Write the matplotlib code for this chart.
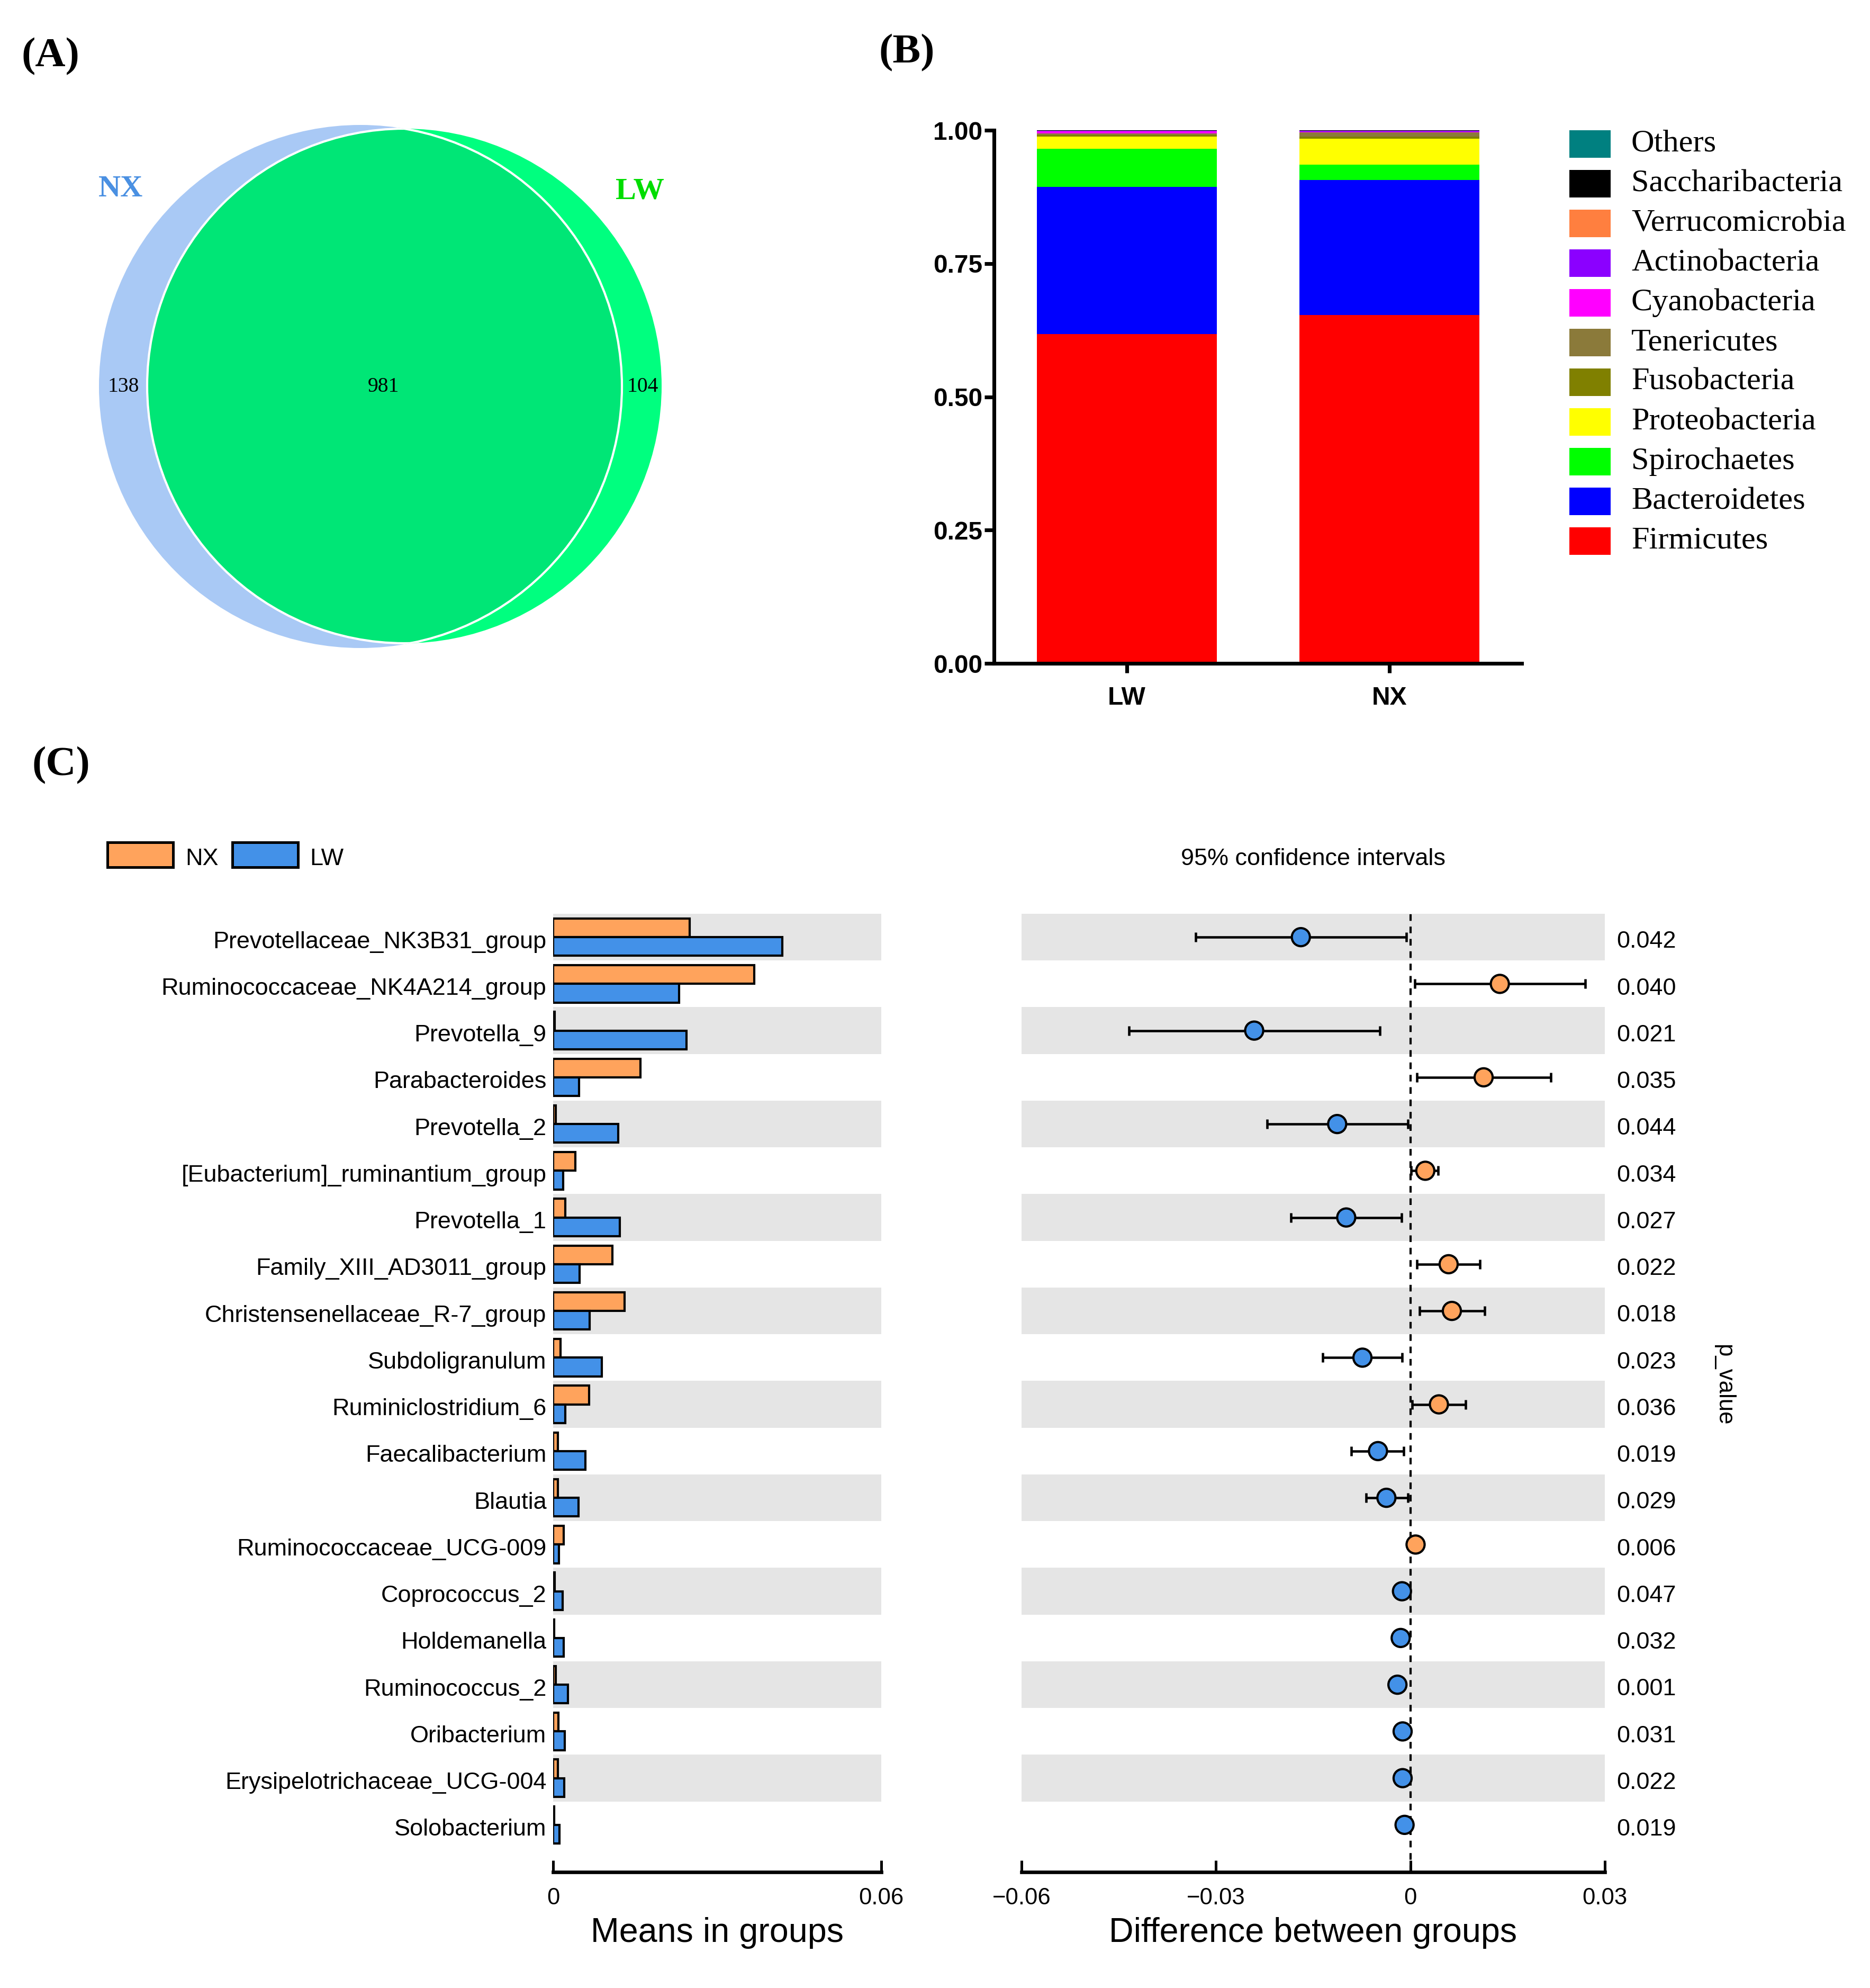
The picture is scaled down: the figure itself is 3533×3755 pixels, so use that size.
import numpy as np
import matplotlib
matplotlib.use('Agg')
import matplotlib.pyplot as plt
from matplotlib.patches import Circle, Rectangle
import matplotlib.transforms as mtransforms

W, H = 3533, 3755
DPI = 300

# ---- data: panel A (venn counts) ----
venn_groups = ['NX', 'LW']
venn_counts = [138, 981, 104]   # NX only, shared, LW only

# ---- data: panel B (phylum relative abundance) ----
b_groups = ['LW', 'NX']
phyla = ['Firmicutes', 'Bacteroidetes', 'Spirochaetes', 'Proteobacteria', 'Fusobacteria',
         'Tenericutes', 'Cyanobacteria', 'Actinobacteria', 'Verrucomicrobia',
         'Saccharibacteria', 'Others']
phyla_colors = ['#FF0000', '#0000FF', '#00FF00', '#FFFF00', '#808000',
                '#8B7A3A', '#FF00FF', '#8B00FF', '#FF7F3F', '#000000', '#008080']
abund_LW = [0.618, 0.276, 0.071, 0.023, 0.003, 0.003, 0.004, 0.001, 0.0005, 0.0003, 0.0002]
abund_NX = [0.653, 0.254, 0.028, 0.049, 0.004, 0.008, 0.001, 0.002, 0.0005, 0.0003, 0.0002]

# ---- data: panel C (STAMP-like comparison) ----
genera = ['Prevotellaceae_NK3B31_group', 'Ruminococcaceae_NK4A214_group', 'Prevotella_9',
          'Parabacteroides', 'Prevotella_2', '[Eubacterium]_ruminantium_group', 'Prevotella_1',
          'Family_XIII_AD3011_group', 'Christensenellaceae_R-7_group', 'Subdoligranulum',
          'Ruminiclostridium_6', 'Faecalibacterium', 'Blautia', 'Ruminococcaceae_UCG-009',
          'Coprococcus_2', 'Holdemanella', 'Ruminococcus_2', 'Oribacterium',
          'Erysipelotrichaceae_UCG-004', 'Solobacterium']
mean_NX = [0.0250, 0.0368, 0.0003, 0.0160, 0.0005, 0.0041, 0.0022, 0.0108, 0.0131, 0.0014,
           0.0066, 0.0009, 0.0009, 0.0019, 0.0003, 0.0002, 0.0005, 0.0010, 0.0009, 0.0002]
mean_LW = [0.0419, 0.0230, 0.0244, 0.0047, 0.0119, 0.0018, 0.0122, 0.0048, 0.0067, 0.0089,
           0.0022, 0.0059, 0.0046, 0.0011, 0.0017, 0.0019, 0.0027, 0.0021, 0.0020, 0.0012]
diff = [-0.0169, 0.0138, -0.0241, 0.0113, -0.0113, 0.0023, -0.0099, 0.0059, 0.0064, -0.0074,
        0.0044, -0.0050, -0.0037, 0.0008, -0.0013, -0.0015, -0.0020, -0.0012, -0.0012, -0.0009]
ci_low = [-0.0331, 0.0007, -0.0434, 0.0010, -0.0221, 0.0001, -0.0184, 0.0010, 0.0014, -0.0135,
          0.0003, -0.0091, -0.0068, 0.0003, -0.0016, -0.0018, -0.0023, -0.0015, -0.0015, -0.0012]
ci_high = [-0.0006, 0.0270, -0.0047, 0.0217, -0.0004, 0.0043, -0.0014, 0.0107, 0.0115, -0.0013,
           0.0085, -0.0010, -0.0004, 0.0014, -0.0010, -0.0012, -0.0017, -0.0009, -0.0009, -0.0006]
p_values = ['0.042', '0.040', '0.021', '0.035', '0.044', '0.034', '0.027', '0.022', '0.018',
            '0.023', '0.036', '0.019', '0.029', '0.006', '0.047', '0.032', '0.001', '0.031',
            '0.022', '0.019']
diff_ticks = [-0.06, -0.03, 0, 0.03]
mean_ticks = [0, 0.06]

c_orange = '#FFA35C'
c_blue = '#4391E8'
SANS = 'Liberation Sans'
SERIF = 'Liberation Serif'

plt.rcParams['font.family'] = SANS


def px_axes(fig, left, top, right, bottom):
    return fig.add_axes([left / W, 1 - bottom / H, (right - left) / W, (bottom - top) / H])


fig = plt.figure(figsize=(W / DPI, H / DPI), dpi=DPI)

# overlay canvas in pixel coordinates
canvas = px_axes(fig, 0, 0, W, H)
canvas.set_xlim(0, W)
canvas.set_ylim(H, 0)
canvas.set_axis_off()
canvas.patch.set_alpha(0)

# panel labels
for lab, (x, y) in zip(['(A)', '(B)', '(C)'], [(95, 107), (1713, 100), (115, 1446)]):
    canvas.text(x, y, lab, fontsize=19, fontweight='bold', family=SERIF,
                ha='center', va='center')

# ---------------- panel A: venn ----------------
nx_c, nx_r = (681, 730), 494
lw_c, lw_r = (764, 729), 486
nx_circ = Circle(nx_c, nx_r, facecolor='#A9C9F5', edgecolor='none', zorder=1)
lw_circ = Circle(lw_c, lw_r, facecolor='#00FF7F', edgecolor='none', zorder=2)
canvas.add_patch(nx_circ)
canvas.add_patch(lw_circ)
clip_c = Circle(nx_c, nx_r, transform=canvas.transData)
inter = Circle(lw_c, lw_r, facecolor='#00E676', edgecolor='white', lw=1.0, zorder=3)
canvas.add_patch(inter)
inter.set_clip_path(clip_c)
edge_nx = Circle(nx_c, nx_r, facecolor='none', edgecolor='white', lw=1.0, zorder=4)
canvas.add_patch(edge_nx)
edge_nx.set_clip_path(Circle(lw_c, lw_r, transform=canvas.transData))

canvas.text(228, 357, venn_groups[0], color='#4A90E2', fontsize=14, fontweight='bold',
            family=SERIF, ha='center', va='center')
canvas.text(1209, 362, venn_groups[1], color='#00DD00', fontsize=14, fontweight='bold',
            family=SERIF, ha='center', va='center')
for cnt, x in zip(venn_counts, [233, 724, 1214]):
    canvas.text(x, 730, str(cnt), fontsize=9.5, family=SERIF, ha='center', va='center',
                zorder=5)

# ---------------- panel B: stacked bars ----------------
axb = px_axes(fig, 1878, 246, 2875, 1253)
xb = np.arange(len(b_groups))
bottom = np.zeros(len(b_groups))
for i, ph in enumerate(phyla):
    vals = np.array([abund_LW[i], abund_NX[i]])
    axb.bar(xb, vals, width=0.685, bottom=bottom, color=phyla_colors[i], label=ph,
            linewidth=0)
    bottom += vals
axb.set_xlim(-0.506, 1.504)
axb.set_ylim(0, 1.0)
axb.set_yticks([0, 0.25, 0.5, 0.75, 1.0])
axb.set_yticklabels(['0.00', '0.25', '0.50', '0.75', '1.00'])
axb.set_xticks(xb)
axb.set_xticklabels(b_groups)
for s in ['top', 'right']:
    axb.spines[s].set_visible(False)
for s in ['left', 'bottom']:
    axb.spines[s].set_linewidth(1.7)
axb.tick_params(axis='both', width=1.7, length=4.3, labelsize=11.5)
axb.tick_params(axis='y', pad=1)
axb.tick_params(axis='x', pad=6)
for t in axb.get_xticklabels() + axb.get_yticklabels():
    t.set_fontweight('bold')

# legend for B (top = last phylum)
for k, i in enumerate(range(len(phyla) - 1, -1, -1)):
    yc = 272 + k * 75
    canvas.add_patch(Rectangle((2965, yc - 26), 78, 52, facecolor=phyla_colors[i],
                               edgecolor='none'))
    canvas.text(3082, yc, phyla[i], fontsize=14.5, family=SERIF, ha='left', va='center')

# ---------------- panel C ----------------
y = np.arange(len(genera))
ylim = (20.01, -0.5)

# legend
canvas.add_patch(Rectangle((203, 1591), 124, 47, facecolor=c_orange, edgecolor='black', lw=1.2))
canvas.text(350, 1622, 'NX', fontsize=10.8, ha='left', va='center')
canvas.add_patch(Rectangle((439, 1591), 124, 47, facecolor=c_blue, edgecolor='black', lw=1.2))
canvas.text(585, 1622, 'LW', fontsize=10.8, ha='left', va='center')

axl = px_axes(fig, 1045, 1726, 1665, 3536)
for i in y[::2]:
    axl.axhspan(i - 0.5, i + 0.5, color='#E5E5E5', lw=0, zorder=0)
axl.barh(y - 0.2, mean_NX, height=0.4, color=c_orange, edgecolor='black', lw=1.0, zorder=2)
axl.barh(y + 0.2, mean_LW, height=0.4, color=c_blue, edgecolor='black', lw=1.0, zorder=2)
axl.set_xlim(0, 0.06)
axl.set_ylim(*ylim)
axl.set_yticks(y + 0.05)
axl.set_yticklabels(genera, fontsize=10.8)
axl.set_xticks(mean_ticks)
axl.set_xticklabels([f'{v:g}' for v in mean_ticks], fontsize=10.5)
for s in ['top', 'right', 'left']:
    axl.spines[s].set_visible(False)
axl.spines['bottom'].set_linewidth(1.6)
axl.tick_params(axis='y', length=0, pad=3)
axl.tick_params(axis='x', direction='in', length=5.3, width=1.2, pad=7)
axl.set_xlabel('Means in groups', fontsize=15.5, labelpad=3.5)

axr = px_axes(fig, 1930, 1726, 3032, 3536)
for i in y[::2]:
    axr.axhspan(i - 0.5, i + 0.5, color='#E5E5E5', lw=0, zorder=0)
diff_a = np.array(diff)
xerr = [diff_a - np.array(ci_low), np.array(ci_high) - diff_a]
axr.errorbar(diff_a, y, xerr=xerr, fmt='none', ecolor='black', elinewidth=1.1,
             capsize=2.2, capthick=1.1, zorder=2)
pt_colors = [c_orange if d > 0 else c_blue for d in diff]
axr.scatter(diff_a, y, s=8.2 ** 2, c=pt_colors, edgecolors='black', linewidths=1.0, zorder=3)
axr.axvline(0, color='black', lw=1.0, ls=(0, (3, 2.6)), zorder=1)
axr.set_xlim(-0.06, 0.03)
axr.set_ylim(*ylim)
axr.set_yticks([])
axr.set_xticks(diff_ticks)
axr.set_xticklabels([f'{v:g}'.replace('-', '\u2212') for v in diff_ticks], fontsize=10.5)
for s in ['top', 'right', 'left']:
    axr.spines[s].set_visible(False)
axr.spines['bottom'].set_linewidth(1.6)
axr.tick_params(axis='x', direction='in', length=5.3, width=1.2, pad=7)
axr.set_xlabel('Difference between groups', fontsize=15.5, labelpad=3.5)
axr.text(0.5, 1.057, '95% confidence intervals', transform=axr.transAxes, fontsize=10.8,
         ha='center', va='center')

trans = mtransforms.blended_transform_factory(axr.transAxes, axr.transData)
for yi, p in zip(y, p_values):
    axr.text(1.02, yi + 0.1, p, transform=trans, fontsize=10.8, ha='left', va='center')
canvas.text(3257, 2616, 'p_value', fontsize=10.5, rotation=270, ha='center', va='center')

fig.savefig('out.png', dpi=DPI)
